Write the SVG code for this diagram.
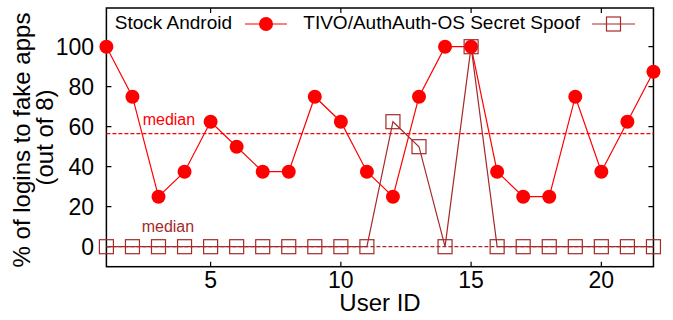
<svg xmlns="http://www.w3.org/2000/svg" width="673" height="320" viewBox="0 0 673 320">
<defs>
<style>
text{font-family:"Liberation Sans",Arial,Helvetica,sans-serif;fill:#000}
.tick{font-size:23px}
.ytick{text-anchor:end}
.xtick{text-anchor:middle}
.axl{font-size:24px}
.leg{font-size:19px;text-anchor:end}
.med{font-size:16px}
.frame{fill:none;stroke:#000;stroke-width:1.5}
.tk{stroke:#000;stroke-width:1.2}
.sa{fill:none;stroke:#ff0000;stroke-width:1.2}
.tv{fill:none;stroke:#a52a2a;stroke-width:1.2}
.dash{stroke-dasharray:4 2;stroke-width:1.2}
</style>
<circle id="dot" r="7" fill="#ff0000"/>
<rect id="sq" x="-7" y="-7" width="14" height="14" fill="none" stroke="#a52a2a" stroke-width="1.2"/>
</defs>
<rect width="673" height="320" fill="#fff"/>

<g id="axes">
<rect class="frame" x="106.4" y="8" width="547.05" height="258.7"/>
<path class="tk" d="M106.4 246.7h5M106.4 206.7h5M106.4 166.7h5M106.4 126.7h5M106.4 86.7h5M106.4 46.7h5M653.45 246.7h-5M653.45 206.7h-5M653.45 166.7h-5M653.45 126.7h-5M653.45 86.7h-5M653.45 46.7h-5M210.6 266.7v-5M340.85 266.7v-5M471.1 266.7v-5M601.35 266.7v-5M210.6 8v5M340.85 8v5M471.1 8v5M601.35 8v5"/>
<text class="tick ytick" x="94" y="254.9">0</text>
<text class="tick ytick" x="94" y="214.9">20</text>
<text class="tick ytick" x="94" y="174.9">40</text>
<text class="tick ytick" x="94" y="134.9">60</text>
<text class="tick ytick" x="94" y="94.9">80</text>
<text class="tick ytick" x="94" y="54.9">100</text>
<text class="tick xtick" x="210.6" y="288">5</text>
<text class="tick xtick" x="340.85" y="288">10</text>
<text class="tick xtick" x="471.1" y="288">15</text>
<text class="tick xtick" x="601.35" y="288">20</text>
<text class="axl" x="380" y="311" text-anchor="middle">User ID</text>
<text class="axl" text-anchor="middle" transform="translate(30 140) rotate(-90)">% of logins to fake apps</text>
<text class="axl" text-anchor="middle" transform="translate(53 137.5) rotate(-90)">(out of 8)</text>
</g>

<g id="medians">
<line x1="106.4" y1="133.7" x2="653.45" y2="133.7" stroke="#ff0000" class="dash"/>
<line x1="106.4" y1="246.7" x2="653.45" y2="246.7" stroke="#a52a2a" class="dash"/>
<text class="med" x="142.7" y="125" style="fill:#ff0000">median</text>
<text class="med" x="141.7" y="231.5" style="fill:#a52a2a">median</text>
</g>

<g id="connectors">
<polyline id="stock-line" class="sa" points="106.4,46.7 132.45,96.7 158.5,196.7 184.55,171.7 210.6,121.7 236.65,146.7 262.7,171.7 288.75,171.7 314.8,96.7 340.85,121.7 366.9,171.7 392.95,196.7 419,96.7 445.05,46.7 471.1,46.7 497.15,171.7 523.2,196.7 549.25,196.7 575.3,96.7 601.35,171.7 627.4,121.7 653.45,71.7"/>
<polyline id="tivo-line" class="tv" points="106.4,246.7 132.45,246.7 158.5,246.7 184.55,246.7 210.6,246.7 236.65,246.7 262.7,246.7 288.75,246.7 314.8,246.7 340.85,246.7 366.9,246.7 392.95,121.7 419,146.7 445.05,246.7 471.1,46.7 497.15,246.7 523.2,246.7 549.25,246.7 575.3,246.7 601.35,246.7 627.4,246.7 653.45,246.7"/>
<line class="sa" x1="245" y1="24" x2="287" y2="24"/>
<line class="tv" x1="592" y1="24" x2="635" y2="24"/>
</g>

<g id="stock-android">
<use href="#dot" x="106.4" y="46.7"/>
<use href="#dot" x="132.45" y="96.7"/>
<use href="#dot" x="158.5" y="196.7"/>
<use href="#dot" x="184.55" y="171.7"/>
<use href="#dot" x="210.6" y="121.7"/>
<use href="#dot" x="236.65" y="146.7"/>
<use href="#dot" x="262.7" y="171.7"/>
<use href="#dot" x="288.75" y="171.7"/>
<use href="#dot" x="314.8" y="96.7"/>
<use href="#dot" x="340.85" y="121.7"/>
<use href="#dot" x="366.9" y="171.7"/>
<use href="#dot" x="392.95" y="196.7"/>
<use href="#dot" x="419" y="96.7"/>
<use href="#dot" x="445.05" y="46.7"/>
<use href="#dot" x="471.1" y="46.7"/>
<use href="#dot" x="497.15" y="171.7"/>
<use href="#dot" x="523.2" y="196.7"/>
<use href="#dot" x="549.25" y="196.7"/>
<use href="#dot" x="575.3" y="96.7"/>
<use href="#dot" x="601.35" y="171.7"/>
<use href="#dot" x="627.4" y="121.7"/>
<use href="#dot" x="653.45" y="71.7"/>
</g>

<g id="tivo">
<use href="#sq" x="106.4" y="246.7"/>
<use href="#sq" x="132.45" y="246.7"/>
<use href="#sq" x="158.5" y="246.7"/>
<use href="#sq" x="184.55" y="246.7"/>
<use href="#sq" x="210.6" y="246.7"/>
<use href="#sq" x="236.65" y="246.7"/>
<use href="#sq" x="262.7" y="246.7"/>
<use href="#sq" x="288.75" y="246.7"/>
<use href="#sq" x="314.8" y="246.7"/>
<use href="#sq" x="340.85" y="246.7"/>
<use href="#sq" x="366.9" y="246.7"/>
<use href="#sq" x="392.95" y="121.7"/>
<use href="#sq" x="419" y="146.7"/>
<use href="#sq" x="445.05" y="246.7"/>
<use href="#sq" x="471.1" y="46.7"/>
<use href="#sq" x="497.15" y="246.7"/>
<use href="#sq" x="523.2" y="246.7"/>
<use href="#sq" x="549.25" y="246.7"/>
<use href="#sq" x="575.3" y="246.7"/>
<use href="#sq" x="601.35" y="246.7"/>
<use href="#sq" x="627.4" y="246.7"/>
<use href="#sq" x="653.45" y="246.7"/>
</g>

<g id="legend">
<text class="leg" x="232" y="29">Stock Android</text>
<use href="#dot" x="266" y="24"/>
<text class="leg" x="580" y="29">TIVO/AuthAuth-OS Secret Spoof</text>
<use href="#sq" x="613.5" y="24"/>
</g>
</svg>
